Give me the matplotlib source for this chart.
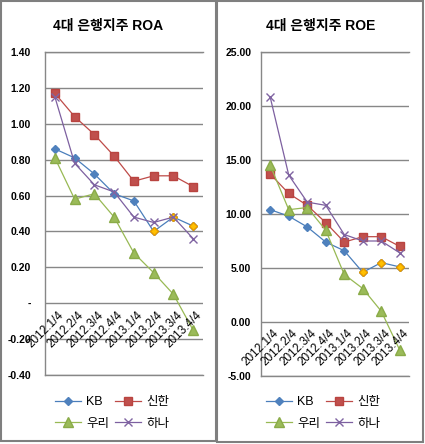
import matplotlib.pyplot as plt
from matplotlib.patches import Rectangle

plt.rcParams['font.family'] = ['Liberation Sans', 'Noto Sans CJK KR']

W, H = 425, 444

quarters = ['2012.1/4', '2012.2/4', '2012.3/4', '2012.4/4',
            '2013.1/4', '2013.2/4', '2013.3/4', '2013.4/4']
banks = ['KB', '신한', '우리', '하나']

# ROA (%)
roa_kb = [0.86, 0.81, 0.72, 0.61, 0.57, 0.40, 0.48, 0.43]
roa_shinhan = [1.17, 1.04, 0.94, 0.82, 0.68, 0.71, 0.71, 0.65]
roa_woori = [0.81, 0.58, 0.61, 0.48, 0.28, 0.17, 0.05, -0.15]
roa_hana = [1.15, 0.78, 0.66, 0.62, 0.48, 0.45, 0.48, 0.36]
roa_ticks = [-0.4, -0.2, 0.0, 0.2, 0.4, 0.6, 0.8, 1.0, 1.2, 1.4]

# ROE (%)
roe_kb = [10.4, 9.8, 8.8, 7.4, 6.6, 4.6, 5.5, 5.1]
roe_shinhan = [13.7, 11.9, 10.8, 9.2, 7.4, 7.9, 7.9, 7.0]
roe_woori = [14.5, 10.4, 10.6, 8.5, 4.4, 3.1, 1.0, -2.6]
roe_hana = [20.8, 13.6, 11.1, 10.8, 8.1, 7.5, 7.5, 6.4]
roe_ticks = [-5, 0, 5, 10, 15, 20, 25]

# KB points shown with highlighted markers
kb_highlight = [5, 6, 7]

styles = [
    dict(color='#4a7ebb', marker='D', ms=4.5, mfc='#4f81bd', mec='#4f81bd'),
    dict(color='#be4b48', marker='s', ms=6, mfc='#c0504d', mec='#b94440'),
    dict(color='#98b954', marker='^', ms=6.5, mfc='#9bbb59', mec='#8aab48'),
    dict(color='#7d60a0', marker='x', ms=6, mfc='#8064a2', mec='#8064a2', mew=1.0),
]

fig = plt.figure(figsize=(W / 100, H / 100), dpi=100)


def px_axes(l, t, r, b):
    return fig.add_axes([l / W, 1 - b / H, (r - l) / W, (b - t) / H])


def panel(ax, series, ticks, fmt, title, title_x, legend_x, pad):
    x = list(range(len(quarters)))
    lines = []
    for i, (vals, st) in enumerate(zip(series, styles)):
        ln, = ax.plot(x, vals, lw=0.9, **st)
        lines.append(ln)
        if i == 0:
            ax.plot([x[k] for k in kb_highlight], [vals[k] for k in kb_highlight],
                    ls='none', marker='D', ms=4.5, mfc='#ffc000', mec='#e69a00')
    ax.set_xlim(-0.5, len(quarters) - 0.5)
    ax.set_ylim(ticks[0], ticks[-1])
    ax.set_yticks(ticks)
    ax.set_yticklabels([fmt(v) for v in ticks], fontsize=7.5, fontweight='bold')
    ax.tick_params(axis='y', length=0, pad=pad)
    ax.set_xticks([])
    ax.grid(axis='y', color='#878787', lw=1.0)
    ax.set_axisbelow(True)
    for s in ['top', 'bottom']:
        ax.spines[s].set_color('#878787')
        ax.spines[s].set_linewidth(1.0)
    ax.spines['right'].set_visible(False)
    ax.spines['left'].set_color('#878787')
    ax.spines['left'].set_linewidth(1.0)
    for i, q in enumerate(quarters):
        ax.annotate(q, xy=(i, 0), xytext=(2, -4), textcoords='offset points',
                    ha='right', va='top', rotation=45, rotation_mode='anchor',
                    fontsize=8.5, annotation_clip=False)
    fig.text(title_x / W, 1 - 26 / H, title, ha='center', va='center',
             fontsize=10, fontweight='bold')
    # legend rows: KB, 신한 / 우리, 하나 (ncol fills column-wise)
    order = [0, 2, 1, 3]
    fig.legend([lines[k] for k in order], [banks[k] for k in order],
               loc='center', ncol=2, frameon=False,
               bbox_to_anchor=(legend_x / W, 1 - 413 / H), fontsize=9,
               handlelength=2.1, handletextpad=0.4, columnspacing=0.5,
               labelspacing=0.75)


ax1 = px_axes(45, 52, 203, 375)
panel(ax1, [roa_kb, roa_shinhan, roa_woori, roa_hana], roa_ticks,
      lambda v: '-' if v == 0 else f'{v:.2f}', '4대 은행지주 ROA', 108, 112, 10)

ax2 = px_axes(261, 52, 409, 376)
panel(ax2, [roe_kb, roe_shinhan, roe_woori, roe_hana], roe_ticks,
      lambda v: f'{v:.2f}', '4대 은행지주 ROE', 321, 323, 7)

# panel frames
fig.add_artist(Rectangle((1 / W, 1 - 441 / H), 215 / W, 440 / H,
                         transform=fig.transFigure, fill=False,
                         ec='#7f7f7f', lw=1.5))
fig.add_artist(Rectangle((217 / W, 1 - 442 / H), 206 / W, 441 / H,
                         transform=fig.transFigure, fill=False,
                         ec='#7f7f7f', lw=1.5))

fig.savefig('out.png', dpi=100)
